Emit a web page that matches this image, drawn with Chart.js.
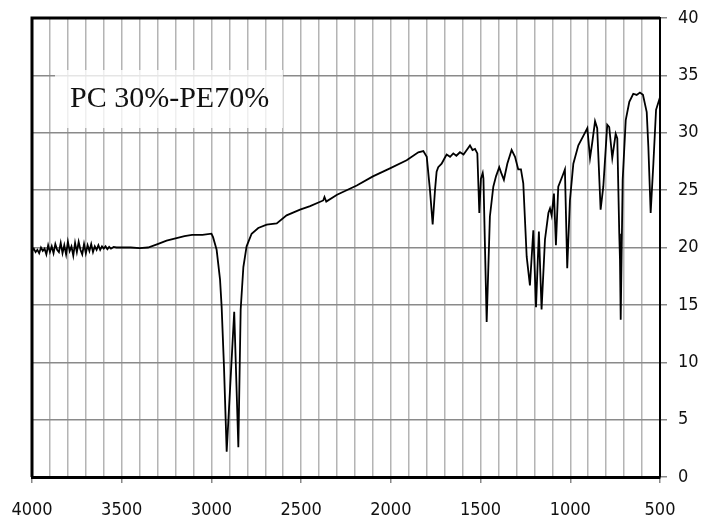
<!DOCTYPE html>
<html>
<head>
<meta charset="utf-8">
<script src="https://cdn.jsdelivr.net/npm/chart.js@4"></script>
<style>
  body { margin: 0; background: #fff; }
  canvas { display: block; }
</style>
</head>
<body>
<canvas id="chartIR" width="702" height="524"></canvas>
<script>
// wavenumber (cm-1) and transmittance
const wavenumbers = [
  4000, 3990, 3980, 3970, 3960, 3950, 3940, 3930, 3920, 3910, 3900, 3890, 3880, 3870,
  3860, 3850, 3840, 3830, 3820, 3810, 3800, 3790, 3780, 3770, 3760, 3750, 3740, 3730,
  3720, 3710, 3700, 3690, 3680, 3670, 3660, 3650, 3640, 3630, 3620, 3610, 3600, 3590,
  3580, 3570, 3560, 3545, 3530, 3500, 3450, 3400, 3353, 3300, 3250, 3200, 3150, 3108, 3050,
  3000, 2991, 2971, 2952, 2943, 2930, 2915, 2873, 2850, 2837, 2822, 2804, 2776, 2739,
  2692, 2636, 2581, 2506, 2450, 2377, 2370, 2360, 2300, 2190, 2100, 2005, 1912, 1847,
  1819, 1800, 1782, 1767, 1754, 1745, 1736, 1717, 1700, 1689, 1670, 1652, 1635, 1615,
  1595, 1577, 1559, 1545, 1531, 1518, 1507, 1498, 1488, 1484, 1466, 1448, 1429, 1414,
  1396, 1385, 1370, 1351, 1327, 1308, 1290, 1275, 1262, 1243, 1225, 1206, 1191, 1175,
  1160, 1141, 1122, 1113, 1104, 1091, 1080, 1067, 1042, 1030, 1017, 1002, 983, 955,
  928, 905, 890, 878, 862, 850, 831, 816, 794, 783, 766, 747, 738, 727, 723, 719, 708,
  691, 671, 649, 630, 612, 595, 574, 565, 552, 537, 522, 500
];
const transmittance = [
  19.7, 19.9, 19.6, 19.8, 19.5, 20.0, 19.7, 19.9, 19.4, 20.2, 19.6, 20.1, 19.5, 20.3,
  19.8, 19.6, 20.4, 19.5, 20.2, 19.4, 20.5, 19.7, 20.1, 19.3, 20.4, 19.6, 20.5, 19.8,
  19.4, 20.3, 19.5, 20.2, 19.7, 20.3, 19.6, 20.1, 19.8, 20.2, 19.8, 20.1, 19.9, 20.1,
  19.85, 20.05, 19.9, 20.05, 20.0, 20.0, 20.0, 19.95, 20.0, 20.3, 20.6, 20.8, 21.0, 21.1, 21.1,
  21.2, 20.9, 19.8, 17.2, 14.8, 9.6, 2.2, 14.4, 2.6, 14.6, 18.3, 20.1, 21.2, 21.7,
  22.0, 22.1, 22.8, 23.3, 23.6, 24.1, 24.4, 24.0, 24.6, 25.4, 26.2, 26.9, 27.6, 28.3,
  28.4, 27.9, 25.0, 22.0, 25.0, 26.6, 27.0, 27.3, 27.8, 28.1, 27.9, 28.2, 28.0, 28.3,
  28.1, 28.5, 28.9, 28.5, 28.6, 28.2, 23.0, 26.0, 26.5, 26.0, 13.5, 22.7, 25.3, 26.2,
  27.0, 26.5, 25.9, 27.3, 28.5, 27.9, 26.8, 26.8, 25.6, 19.2, 16.7, 21.5, 14.8, 21.4,
  14.6, 20.7, 23.0, 23.4, 22.8, 24.7, 20.2, 25.3, 26.3, 26.8, 18.2, 24.1, 27.3, 28.9,
  29.7, 30.4, 27.8, 29.1, 31.0, 30.4, 23.3, 25.3, 30.7, 30.5, 27.8, 29.9, 29.5, 21.2, 18.9, 13.7, 25.9,
  31.1, 32.7, 33.4, 33.3, 33.5, 33.3, 31.8, 28.8, 23.0, 27.3, 32.0, 33.1
];
const xLabels = [4000, 3500, 3000, 2500, 2000, 1500, 1000, 500];
const sampleName = 'PC 30%-PE70%';

const tickFont = { family: "'DejaVu Sans Condensed', 'DejaVu Sans', sans-serif", size: 18 };

const frame = {
  id: 'frame',
  beforeDatasetsDraw(chart) {
    const { ctx } = chart;
    ctx.save();
    ctx.fillStyle = 'rgba(255,255,255,0.78)';
    ctx.fillRect(55, 70, 228, 58);
    ctx.fillStyle = '#111';
    ctx.font = "30px 'Liberation Serif', 'Times New Roman', serif";
    ctx.textBaseline = 'alphabetic';
    ctx.fillText(sampleName, 70, 107);
    ctx.restore();
  },
  afterDraw(chart) {
    const { ctx, chartArea: a } = chart;
    ctx.save();
    ctx.strokeStyle = '#000';
    ctx.lineWidth = 3;
    ctx.beginPath();
    ctx.moveTo(a.left, a.bottom);
    ctx.lineTo(a.left, a.top);
    ctx.lineTo(a.right, a.top);
    ctx.stroke();
    ctx.restore();
  }
};

new Chart(document.getElementById('chartIR').getContext('2d'), {
  type: 'line',
  data: {
    datasets: [{
      data: wavenumbers.map((w, i) => ({ x: w, y: transmittance[i] })),
      borderColor: '#000',
      borderWidth: 1.8,
      pointRadius: 0,
      pointHoverRadius: 0,
      tension: 0,
      fill: false
    }]
  },
  options: {
    responsive: false,
    animation: false,
    layout: { autoPadding: false, padding: { left: 32, top: 18, right: 0, bottom: 0 } },
    plugins: { legend: { display: false }, tooltip: { enabled: false } },
    scales: {
      x: {
        type: 'linear',
        reverse: true,
        min: 500,
        max: 4000,
        afterFit(s) { s.height = 47; s.paddingLeft = 0; s.paddingRight = 0; },
        border: { color: '#000', width: 3 },
        grid: {
          color: '#b4b4b4',
          lineWidth: 1.5,
          tickLength: 6,
          tickColor: c => xLabels.includes(c.tick && c.tick.value) ? '#888' : 'rgba(0,0,0,0)'
        },
        ticks: {
          stepSize: 100,
          autoSkip: false,
          maxRotation: 0,
          padding: 17,
          color: '#111',
          font: tickFont,
          callback: v => xLabels.includes(v) ? String(v) : ''
        }
      },
      y: {
        position: 'right',
        min: 0,
        max: 40,
        afterFit(s) { s.width = 42; s.paddingTop = 0; s.paddingBottom = 0; },
        border: { color: '#000', width: 2 },
        grid: { color: '#8a8a8a', lineWidth: 1.5, tickLength: 7, tickColor: '#888' },
        ticks: { stepSize: 5, padding: 11, color: '#111', font: tickFont }
      }
    }
  },
  plugins: [frame]
});
</script>
</body>
</html>
